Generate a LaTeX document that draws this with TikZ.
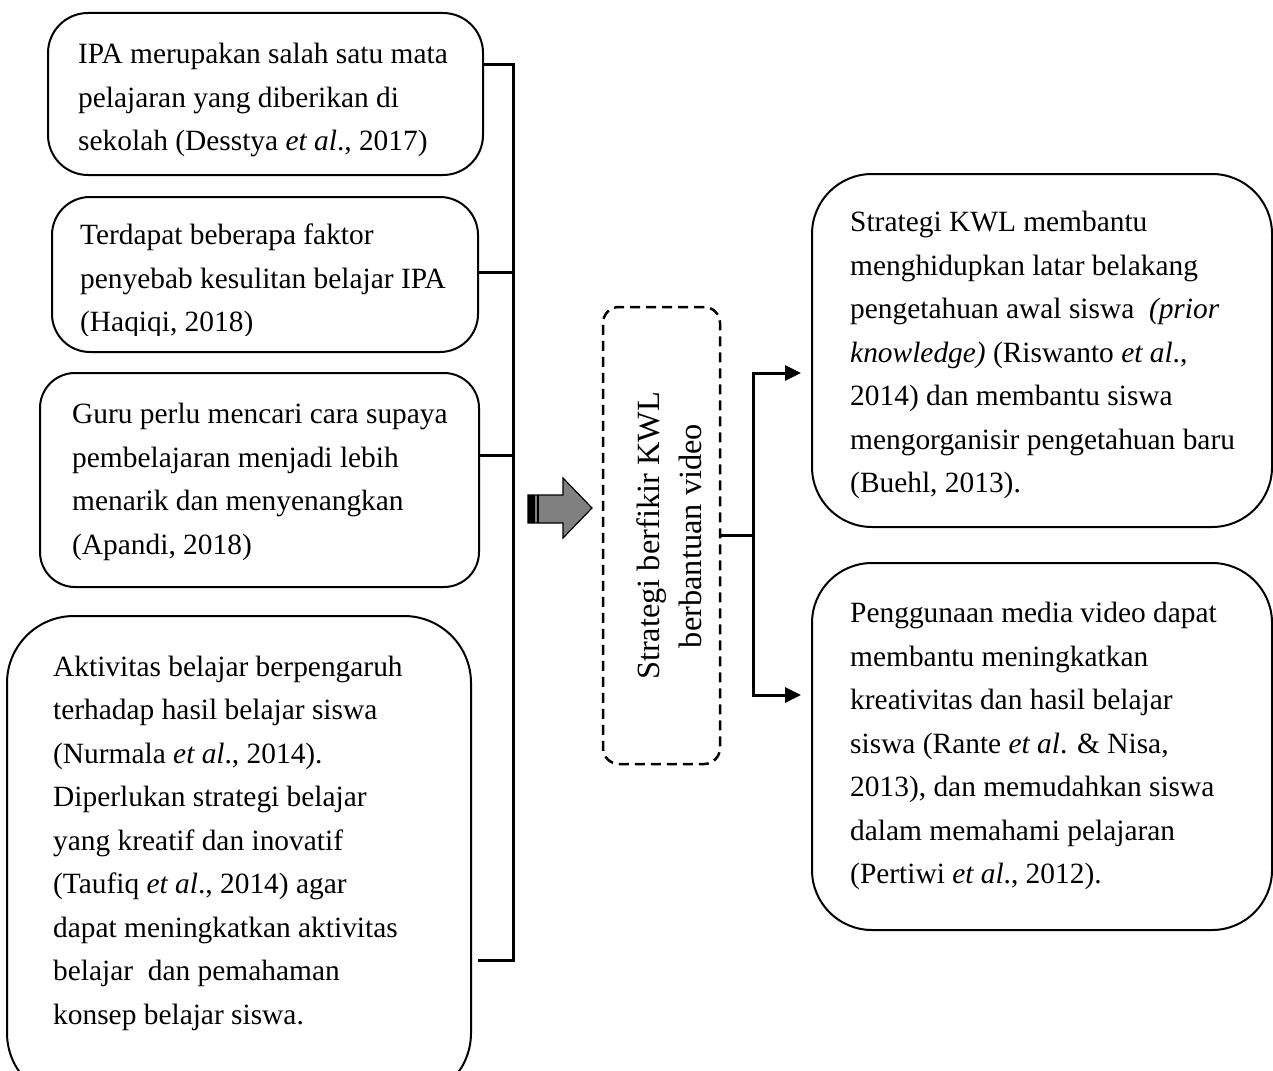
\documentclass[tikz,border=0pt]{standalone}
\usepackage{fontspec}
\setmainfont{Liberation Serif}
\usetikzlibrary{arrows.meta}
\begin{document}
\begin{tikzpicture}[x=1pt,y=-1pt,
  box/.style={draw=black, line width=2pt, fill=white, inner sep=0pt},
  txt/.style={anchor=west, align=left, inner sep=0pt, font=\fontsize{29.4}{43.5}\selectfont},
  bracket/.style={draw=black, line width=3pt},
  conn/.style={draw=black, line width=3pt},
  arr/.style={-{Triangle[length=16pt,width=15pt]}, shorten >=10pt}
]
\useasboundingbox (0,0) rectangle (1273,1070);
\clip (0,0) rectangle (1273,1070);

% left boxes
\node[box, minimum width=435pt, minimum height=162pt, rounded corners=40pt] (b1) at (265.5,94) {};
\node[txt] (t1) at (78,100) {IPA merupakan salah satu mata\\pelajaran yang diberikan di\\sekolah (Desstya \textit{et al}., 2017)};

\node[box, minimum width=426pt, minimum height=155pt, rounded corners=38pt] (b2) at (265,274.5) {};
\begin{scope}
\clip (52,197) rectangle (478,335);
\node[txt] (t2) at (80,281) {Terdapat beberapa faktor\\penyebab kesulitan belajar IPA\\(Haqiqi, 2018)};
\end{scope}

\node[box, minimum width=439pt, minimum height=214pt, rounded corners=35pt] (b3) at (259.5,480) {};
\node[txt] (t3) at (72,482) {Guru perlu mencari cara supaya\\pembelajaran menjadi lebih\\menarik dan menyenangkan\\(Apandi, 2018)};

\node[box, minimum width=464pt, minimum height=484pt, rounded corners=67pt] (b4) at (239,858) {};
\node[txt] (t4) at (53,843) {Aktivitas belajar berpengaruh\\terhadap hasil belajar siswa\\(Nurmala \textit{et al}., 2014).\\Diperlukan strategi belajar\\yang kreatif dan inovatif\\(Taufiq \textit{et al}., 2014) agar\\dapat meningkatkan aktivitas\\belajar\ \ dan pemahaman\\konsep belajar siswa.};

% bracket
\coordinate (j1) at (513,65);
\coordinate (j2) at (513,272);
\coordinate (j3) at (513,455);
\coordinate (j4) at (513,960);
\coordinate (s4) at (478,960);
\draw[bracket] (b1.east |- j1) -- (j1) -- (j4) -- (s4);
\draw[bracket] (b2.east |- j2) -- (j2);
\draw[bracket] (b3.east |- j3) -- (j3);

% block arrow
\draw[line width=1.2pt, fill=black!50] (528,495) -- (563,495) -- (563,478) -- (592,508) -- (563,538) -- (563,523) -- (528,523) -- cycle;
\fill[black] (528,495) rectangle (535,523);
\draw[line width=1.2pt] (538,495) -- (538,523);

% central dashed box
\node[draw=black, line width=2.5pt, dash pattern=on 10pt off 6pt, rounded corners=16pt, minimum width=117pt, minimum height=457pt, inner sep=0pt] (kwl) at (661.5,535.5) {};
\node[rotate=90, align=center, inner sep=0pt, font=\fontsize{32.4}{42}\selectfont] (kwlt) at (669,536) {Strategi berfikir KWL\\berbantuan video};

% right boxes
\node[box, minimum width=460pt, minimum height=353pt, rounded corners=60pt] (b5) at (1042,350.5) {};
\node[txt] (t5) at (850,355) {Strategi KWL membantu\\menghidupkan latar belakang\\pengetahuan awal siswa\ \ \textit{(prior}\\\textit{knowledge)} (Riswanto \textit{et al}.,\\2014) dan membantu siswa\\mengorganisir pengetahuan baru\\(Buehl, 2013).};

\node[box, minimum width=460pt, minimum height=367pt, rounded corners=60pt] (b6) at (1042,746.5) {};
\node[txt] (t6) at (850,746) {Penggunaan media video dapat\\membantu meningkatkan\\kreativitas dan hasil belajar\\siswa (Rante \textit{et al}. \& Nisa,\\2013), dan memudahkan siswa\\dalam memahami pelajaran\\(Pertiwi \textit{et al}., 2012).};

% right connectors
\coordinate (r0) at (753,535);
\coordinate (r1) at (753,373);
\coordinate (r2) at (753,695);
\draw[conn] (kwl.east |- r0) -- (r0);
\draw[conn, arr] (r0) -- (r1) -- (b5.west |- r1);
\draw[conn, arr] (r0) -- (r2) -- (b6.west |- r2);
\end{tikzpicture}
\end{document}
